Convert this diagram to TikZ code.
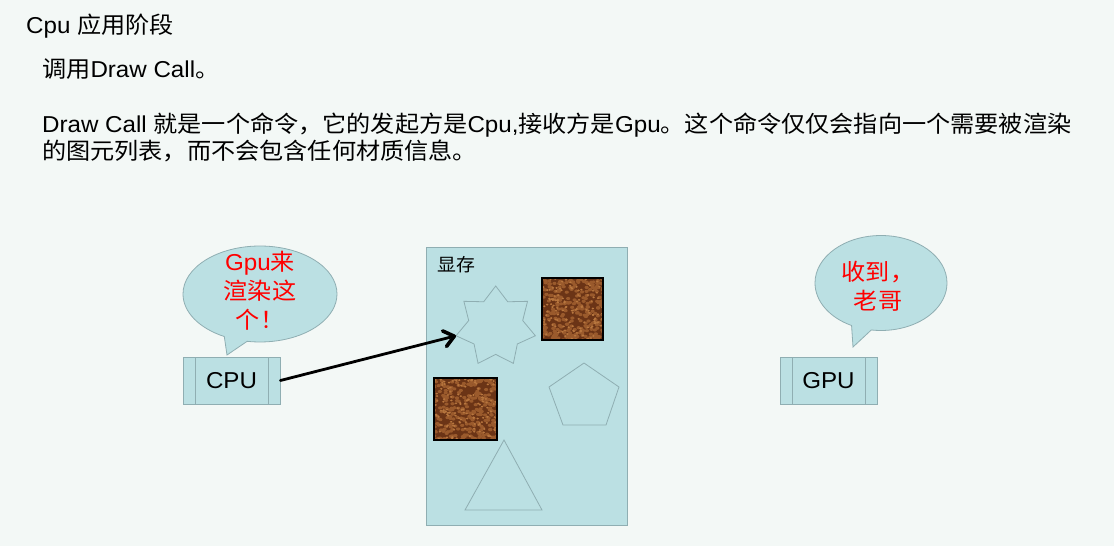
\documentclass[tikz,border=0pt]{standalone}
\usepackage{fontspec}
\setmainfont{Liberation Sans}[FakeStretch=1.05]
\newfontfamily\cjk{Noto Sans CJK SC}[FakeStretch=1.05]
\newcommand{\zh}[1]{{\cjk #1}}
\usetikzlibrary{arrows.meta,shapes.geometric,shapes.callouts}

\definecolor{fondo}{HTML}{F3F8F6}
\definecolor{relleno}{HTML}{BBE0E3}
\definecolor{borde}{HTML}{8FAEB2}
\definecolor{cuero}{HTML}{6B3416}
\definecolor{cueroclaro}{HTML}{9A5A2C}
\definecolor{cuerobrillo}{HTML}{B8773F}

\tikzset{
  procbox/.style={draw=borde, fill=relleno, line width=0.8pt, inner sep=0pt,
    minimum width=97pt, minimum height=47pt,
    path picture={
      \draw[borde, line width=0.8pt] ([xshift=12pt]path picture bounding box.north west) -- ([xshift=12pt]path picture bounding box.south west);
      \draw[borde, line width=0.8pt] ([xshift=-12pt]path picture bounding box.north east) -- ([xshift=-12pt]path picture bounding box.south east);
    }},
  bubble/.style={ellipse callout, draw=borde, fill=relleno, line width=0.8pt,
    inner sep=0pt, callout pointer arc=18},
  saytext/.style={text=red, align=center, inner sep=0pt,
    font=\fontsize{23}{29}\selectfont},
  forma/.style={draw=borde, line width=0.8pt},
  cuerobox/.style={draw=black, line width=1.3pt, fill=cuero, inner sep=0pt,
    minimum height=62pt,
    path picture={
      \foreach \k in {1,...,300}{
        \pgfmathsetmacro{\cx}{rnd*66}
        \pgfmathsetmacro{\cy}{rnd*66}
        \fill[cueroclaro] ([shift={(\cx pt,-\cy pt)}]path picture bounding box.north west) ellipse (2.1pt and 1.6pt);
      }
      \foreach \k in {1,...,160}{
        \pgfmathsetmacro{\cx}{rnd*66}
        \pgfmathsetmacro{\cy}{rnd*66}
        \fill[cuerobrillo] ([shift={(\cx pt,-\cy pt)}]path picture bounding box.north west) ellipse (1.3pt and 1pt);
      }
    }},
}

\begin{document}
\begin{tikzpicture}[x=1pt,y=-1pt]

\useasboundingbox (0,0) rectangle (1114,546);
\fill[fondo] (0,0) rectangle (1114,546);
\pgfmathsetseed{17}

% Textos
\path [every node/.style={inner sep=0pt, anchor=base west, font=\fontsize{23}{27}\selectfont}]
  node (titulo) at (26,34) {Cpu \zh{应用阶段}}
  node (llamada) at (42,77) {\zh{调用}Draw Call\zh{。}}
  node (texto1) at (42,132) {Draw Call \zh{就是一个命令，它的发起方是}Cpu,\zh{接收方是}Gpu\zh{。这个命令仅仅会指向一个需要被渲染}}
  node (texto2) at (42,159) {\zh{的图元列表，而不会包含任何材质信息。}};

% Cajas
\node[procbox, font=\fontsize{23}{27}\selectfont] (cpu) at (231.5,380.5) {CPU};
\node[procbox, font=\fontsize{23}{27}\selectfont] (gpu) at (828.5,380.5) {GPU};

% Burbujas
\node[bubble, minimum width=154pt, minimum height=96pt, callout absolute pointer={(227,355)}] (cpudice) at (260,294) {};
\node[saytext] (cputexto) at (260,291) {Gpu\zh{来}\\\zh{渲染这}\\\zh{个！}};
\node[bubble, minimum width=132pt, minimum height=95pt, callout absolute pointer={(853,347)}] (gpudice) at (881,283) {};
\node[saytext] (gputexto) at (878,286) {\zh{收到，}\\\zh{老哥}};

% Memoria
\node[draw=borde, fill=relleno, line width=0.8pt, minimum width=201pt, minimum height=278pt, anchor=north west] (memoria) at (426,247) {};
\node[anchor=west, inner sep=0pt, font=\fontsize{18}{20}\selectfont] (memtexto) at (437,265) {\zh{显存}};
\node[star, star points=7, star point ratio=1.47, minimum size=81.4pt, inner sep=0pt, outer sep=0pt, forma] (estrella) at (495.7,326.7) {};
\node[cuerobox, minimum width=61pt] (textura1) at (572.5,309) {};
\node[cuerobox, minimum width=63pt] (textura2) at (465.5,409) {};
\draw[forma] (584,363) -- (619,387) -- (606,425) -- (563,425) -- (549,387) -- cycle;
\draw[forma] (504,440) -- (542,510) -- (465,510) -- cycle;

% Llamada
\draw[line width=2.8pt, line cap=round, -{Straight Barb[length=10pt,width=16pt,line width=0pt 1.3,round]}] (cpu.east) -- (estrella.outer point 3);

\end{tikzpicture}
\end{document}
